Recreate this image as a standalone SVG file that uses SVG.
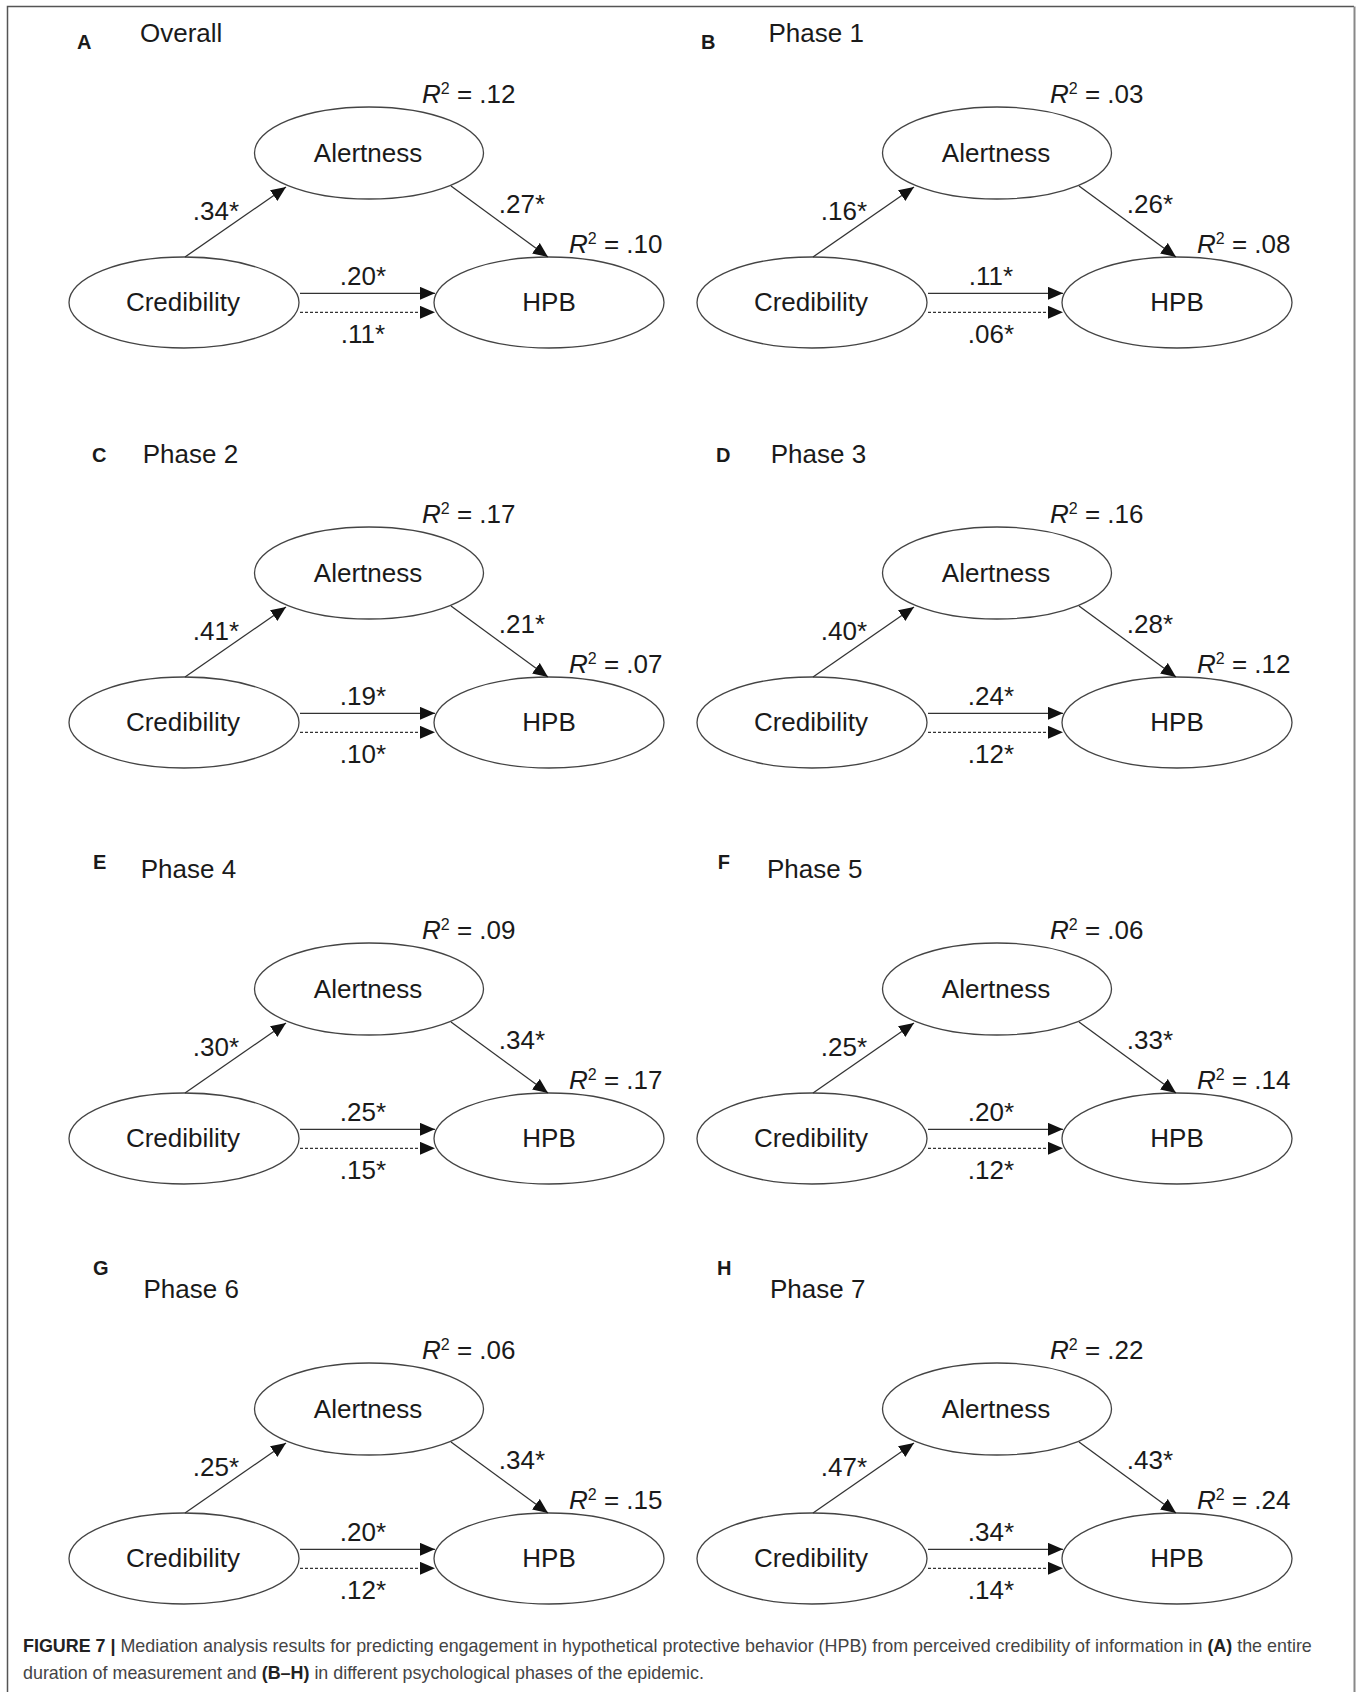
<svg xmlns="http://www.w3.org/2000/svg" width="1357" height="1692" viewBox="0 0 1357 1692">
<style>
  .t { font-family: "Liberation Sans", Arial, sans-serif; fill: #1a1a1a; }
  .lbl { font-size: 26px; }
  .mid { text-anchor: middle; }
  .let { font-size: 20px; font-weight: bold; }
  .ell { fill: #fff; stroke: #444; stroke-width: 1.3; }
  .ln { stroke: #333; stroke-width: 1.3; fill: none; }
  .dash { stroke-dasharray: 3 2; }
  .cap { font-family: "Liberation Sans", Arial, sans-serif; font-size: 17.9px; fill: #444; }
  .capb { font-weight: bold; fill: #222; }
</style>
<defs>
  <marker id="ah" markerUnits="userSpaceOnUse" markerWidth="16" markerHeight="13" refX="15" refY="6.5" orient="auto">
    <path d="M0,0 L15,6.5 L0,13 z" fill="#111"/>
  </marker>
</defs>
<rect width="1357" height="1692" fill="#fff"/>
<path d="M7.5,1692 V6.5 H1354" fill="none" stroke="#555" stroke-width="1.5"/>
<path d="M1354.5,6.5 V1692" fill="none" stroke="#888" stroke-width="2"/>

<!-- Panel letters and titles -->
<g id="titles">
  <text class="t let" x="77" y="49">A</text><text class="t lbl" x="140" y="42">Overall</text>
  <text class="t let" x="701" y="49">B</text><text class="t lbl" x="768.5" y="42">Phase 1</text>
  <text class="t let" x="92" y="462">C</text><text class="t lbl" x="142.7" y="462.7">Phase 2</text>
  <text class="t let" x="716" y="462">D</text><text class="t lbl" x="770.7" y="462.7">Phase 3</text>
  <text class="t let" x="93" y="869">E</text><text class="t lbl" x="140.7" y="878">Phase 4</text>
  <text class="t let" x="717.7" y="869">F</text><text class="t lbl" x="767" y="878">Phase 5</text>
  <text class="t let" x="93" y="1275">G</text><text class="t lbl" x="143.5" y="1298">Phase 6</text>
  <text class="t let" x="717" y="1275">H</text><text class="t lbl" x="770" y="1298">Phase 7</text>
</g>

<!-- Panel A -->
<g id="panelA" transform="translate(0,0)">
  <g id="A-alertness"><ellipse class="ell" cx="369" cy="153" rx="114.5" ry="46"/><text class="t lbl mid" x="368" y="162">Alertness</text>
    <text class="t lbl" x="422" y="103.3"><tspan font-style="italic">R</tspan><tspan font-size="16" dy="-9">2</tspan><tspan dy="9"> = .12</tspan></text></g>
  <g id="A-credibility"><ellipse class="ell" cx="184" cy="302.5" rx="115" ry="45.5"/><text class="t lbl mid" x="183" y="311">Credibility</text></g>
  <g id="A-hpb"><ellipse class="ell" cx="549" cy="302.5" rx="115" ry="45.5"/><text class="t lbl mid" x="549" y="311">HPB</text>
    <text class="t lbl" x="569" y="253.3"><tspan font-style="italic">R</tspan><tspan font-size="16" dy="-9">2</tspan><tspan dy="9"> = .10</tspan></text></g>
  <g id="A-connectors">
    <line class="ln" x1="185" y1="257" x2="286" y2="187" marker-end="url(#ah)"/>
    <line class="ln" x1="451" y1="186" x2="548" y2="257" marker-end="url(#ah)"/>
    <line class="ln" x1="300" y1="293.3" x2="435" y2="293.3" marker-end="url(#ah)"/>
    <line class="ln dash" x1="300" y1="312.3" x2="435" y2="312.3" marker-end="url(#ah)"/>
    <text class="t lbl mid" x="216" y="220">.34*</text>
    <text class="t lbl mid" x="522" y="213">.27*</text>
    <text class="t lbl mid" x="363" y="285">.20*</text>
    <text class="t lbl mid" x="363" y="343">.11*</text>
  </g>
</g>

<!-- Panel B -->
<g id="panelB" transform="translate(628,0)">
  <g id="B-alertness"><ellipse class="ell" cx="369" cy="153" rx="114.5" ry="46"/><text class="t lbl mid" x="368" y="162">Alertness</text>
    <text class="t lbl" x="422" y="103.3"><tspan font-style="italic">R</tspan><tspan font-size="16" dy="-9">2</tspan><tspan dy="9"> = .03</tspan></text></g>
  <g id="B-credibility"><ellipse class="ell" cx="184" cy="302.5" rx="115" ry="45.5"/><text class="t lbl mid" x="183" y="311">Credibility</text></g>
  <g id="B-hpb"><ellipse class="ell" cx="549" cy="302.5" rx="115" ry="45.5"/><text class="t lbl mid" x="549" y="311">HPB</text>
    <text class="t lbl" x="569" y="253.3"><tspan font-style="italic">R</tspan><tspan font-size="16" dy="-9">2</tspan><tspan dy="9"> = .08</tspan></text></g>
  <g id="B-connectors">
    <line class="ln" x1="185" y1="257" x2="286" y2="187" marker-end="url(#ah)"/>
    <line class="ln" x1="451" y1="186" x2="548" y2="257" marker-end="url(#ah)"/>
    <line class="ln" x1="300" y1="293.3" x2="435" y2="293.3" marker-end="url(#ah)"/>
    <line class="ln dash" x1="300" y1="312.3" x2="435" y2="312.3" marker-end="url(#ah)"/>
    <text class="t lbl mid" x="216" y="220">.16*</text>
    <text class="t lbl mid" x="522" y="213">.26*</text>
    <text class="t lbl mid" x="363" y="285">.11*</text>
    <text class="t lbl mid" x="363" y="343">.06*</text>
  </g>
</g>

<!-- Panel C -->
<g id="panelC" transform="translate(0,420)">
  <g id="C-alertness"><ellipse class="ell" cx="369" cy="153" rx="114.5" ry="46"/><text class="t lbl mid" x="368" y="162">Alertness</text>
    <text class="t lbl" x="422" y="103.3"><tspan font-style="italic">R</tspan><tspan font-size="16" dy="-9">2</tspan><tspan dy="9"> = .17</tspan></text></g>
  <g id="C-credibility"><ellipse class="ell" cx="184" cy="302.5" rx="115" ry="45.5"/><text class="t lbl mid" x="183" y="311">Credibility</text></g>
  <g id="C-hpb"><ellipse class="ell" cx="549" cy="302.5" rx="115" ry="45.5"/><text class="t lbl mid" x="549" y="311">HPB</text>
    <text class="t lbl" x="569" y="253.3"><tspan font-style="italic">R</tspan><tspan font-size="16" dy="-9">2</tspan><tspan dy="9"> = .07</tspan></text></g>
  <g id="C-connectors">
    <line class="ln" x1="185" y1="257" x2="286" y2="187" marker-end="url(#ah)"/>
    <line class="ln" x1="451" y1="186" x2="548" y2="257" marker-end="url(#ah)"/>
    <line class="ln" x1="300" y1="293.3" x2="435" y2="293.3" marker-end="url(#ah)"/>
    <line class="ln dash" x1="300" y1="312.3" x2="435" y2="312.3" marker-end="url(#ah)"/>
    <text class="t lbl mid" x="216" y="220">.41*</text>
    <text class="t lbl mid" x="522" y="213">.21*</text>
    <text class="t lbl mid" x="363" y="285">.19*</text>
    <text class="t lbl mid" x="363" y="343">.10*</text>
  </g>
</g>

<!-- Panel D -->
<g id="panelD" transform="translate(628,420)">
  <g id="D-alertness"><ellipse class="ell" cx="369" cy="153" rx="114.5" ry="46"/><text class="t lbl mid" x="368" y="162">Alertness</text>
    <text class="t lbl" x="422" y="103.3"><tspan font-style="italic">R</tspan><tspan font-size="16" dy="-9">2</tspan><tspan dy="9"> = .16</tspan></text></g>
  <g id="D-credibility"><ellipse class="ell" cx="184" cy="302.5" rx="115" ry="45.5"/><text class="t lbl mid" x="183" y="311">Credibility</text></g>
  <g id="D-hpb"><ellipse class="ell" cx="549" cy="302.5" rx="115" ry="45.5"/><text class="t lbl mid" x="549" y="311">HPB</text>
    <text class="t lbl" x="569" y="253.3"><tspan font-style="italic">R</tspan><tspan font-size="16" dy="-9">2</tspan><tspan dy="9"> = .12</tspan></text></g>
  <g id="D-connectors">
    <line class="ln" x1="185" y1="257" x2="286" y2="187" marker-end="url(#ah)"/>
    <line class="ln" x1="451" y1="186" x2="548" y2="257" marker-end="url(#ah)"/>
    <line class="ln" x1="300" y1="293.3" x2="435" y2="293.3" marker-end="url(#ah)"/>
    <line class="ln dash" x1="300" y1="312.3" x2="435" y2="312.3" marker-end="url(#ah)"/>
    <text class="t lbl mid" x="216" y="220">.40*</text>
    <text class="t lbl mid" x="522" y="213">.28*</text>
    <text class="t lbl mid" x="363" y="285">.24*</text>
    <text class="t lbl mid" x="363" y="343">.12*</text>
  </g>
</g>

<!-- Panel E -->
<g id="panelE" transform="translate(0,836)">
  <g id="E-alertness"><ellipse class="ell" cx="369" cy="153" rx="114.5" ry="46"/><text class="t lbl mid" x="368" y="162">Alertness</text>
    <text class="t lbl" x="422" y="103.3"><tspan font-style="italic">R</tspan><tspan font-size="16" dy="-9">2</tspan><tspan dy="9"> = .09</tspan></text></g>
  <g id="E-credibility"><ellipse class="ell" cx="184" cy="302.5" rx="115" ry="45.5"/><text class="t lbl mid" x="183" y="311">Credibility</text></g>
  <g id="E-hpb"><ellipse class="ell" cx="549" cy="302.5" rx="115" ry="45.5"/><text class="t lbl mid" x="549" y="311">HPB</text>
    <text class="t lbl" x="569" y="253.3"><tspan font-style="italic">R</tspan><tspan font-size="16" dy="-9">2</tspan><tspan dy="9"> = .17</tspan></text></g>
  <g id="E-connectors">
    <line class="ln" x1="185" y1="257" x2="286" y2="187" marker-end="url(#ah)"/>
    <line class="ln" x1="451" y1="186" x2="548" y2="257" marker-end="url(#ah)"/>
    <line class="ln" x1="300" y1="293.3" x2="435" y2="293.3" marker-end="url(#ah)"/>
    <line class="ln dash" x1="300" y1="312.3" x2="435" y2="312.3" marker-end="url(#ah)"/>
    <text class="t lbl mid" x="216" y="220">.30*</text>
    <text class="t lbl mid" x="522" y="213">.34*</text>
    <text class="t lbl mid" x="363" y="285">.25*</text>
    <text class="t lbl mid" x="363" y="343">.15*</text>
  </g>
</g>

<!-- Panel F -->
<g id="panelF" transform="translate(628,836)">
  <g id="F-alertness"><ellipse class="ell" cx="369" cy="153" rx="114.5" ry="46"/><text class="t lbl mid" x="368" y="162">Alertness</text>
    <text class="t lbl" x="422" y="103.3"><tspan font-style="italic">R</tspan><tspan font-size="16" dy="-9">2</tspan><tspan dy="9"> = .06</tspan></text></g>
  <g id="F-credibility"><ellipse class="ell" cx="184" cy="302.5" rx="115" ry="45.5"/><text class="t lbl mid" x="183" y="311">Credibility</text></g>
  <g id="F-hpb"><ellipse class="ell" cx="549" cy="302.5" rx="115" ry="45.5"/><text class="t lbl mid" x="549" y="311">HPB</text>
    <text class="t lbl" x="569" y="253.3"><tspan font-style="italic">R</tspan><tspan font-size="16" dy="-9">2</tspan><tspan dy="9"> = .14</tspan></text></g>
  <g id="F-connectors">
    <line class="ln" x1="185" y1="257" x2="286" y2="187" marker-end="url(#ah)"/>
    <line class="ln" x1="451" y1="186" x2="548" y2="257" marker-end="url(#ah)"/>
    <line class="ln" x1="300" y1="293.3" x2="435" y2="293.3" marker-end="url(#ah)"/>
    <line class="ln dash" x1="300" y1="312.3" x2="435" y2="312.3" marker-end="url(#ah)"/>
    <text class="t lbl mid" x="216" y="220">.25*</text>
    <text class="t lbl mid" x="522" y="213">.33*</text>
    <text class="t lbl mid" x="363" y="285">.20*</text>
    <text class="t lbl mid" x="363" y="343">.12*</text>
  </g>
</g>

<!-- Panel G -->
<g id="panelG" transform="translate(0,1256)">
  <g id="G-alertness"><ellipse class="ell" cx="369" cy="153" rx="114.5" ry="46"/><text class="t lbl mid" x="368" y="162">Alertness</text>
    <text class="t lbl" x="422" y="103.3"><tspan font-style="italic">R</tspan><tspan font-size="16" dy="-9">2</tspan><tspan dy="9"> = .06</tspan></text></g>
  <g id="G-credibility"><ellipse class="ell" cx="184" cy="302.5" rx="115" ry="45.5"/><text class="t lbl mid" x="183" y="311">Credibility</text></g>
  <g id="G-hpb"><ellipse class="ell" cx="549" cy="302.5" rx="115" ry="45.5"/><text class="t lbl mid" x="549" y="311">HPB</text>
    <text class="t lbl" x="569" y="253.3"><tspan font-style="italic">R</tspan><tspan font-size="16" dy="-9">2</tspan><tspan dy="9"> = .15</tspan></text></g>
  <g id="G-connectors">
    <line class="ln" x1="185" y1="257" x2="286" y2="187" marker-end="url(#ah)"/>
    <line class="ln" x1="451" y1="186" x2="548" y2="257" marker-end="url(#ah)"/>
    <line class="ln" x1="300" y1="293.3" x2="435" y2="293.3" marker-end="url(#ah)"/>
    <line class="ln dash" x1="300" y1="312.3" x2="435" y2="312.3" marker-end="url(#ah)"/>
    <text class="t lbl mid" x="216" y="220">.25*</text>
    <text class="t lbl mid" x="522" y="213">.34*</text>
    <text class="t lbl mid" x="363" y="285">.20*</text>
    <text class="t lbl mid" x="363" y="343">.12*</text>
  </g>
</g>

<!-- Panel H -->
<g id="panelH" transform="translate(628,1256)">
  <g id="H-alertness"><ellipse class="ell" cx="369" cy="153" rx="114.5" ry="46"/><text class="t lbl mid" x="368" y="162">Alertness</text>
    <text class="t lbl" x="422" y="103.3"><tspan font-style="italic">R</tspan><tspan font-size="16" dy="-9">2</tspan><tspan dy="9"> = .22</tspan></text></g>
  <g id="H-credibility"><ellipse class="ell" cx="184" cy="302.5" rx="115" ry="45.5"/><text class="t lbl mid" x="183" y="311">Credibility</text></g>
  <g id="H-hpb"><ellipse class="ell" cx="549" cy="302.5" rx="115" ry="45.5"/><text class="t lbl mid" x="549" y="311">HPB</text>
    <text class="t lbl" x="569" y="253.3"><tspan font-style="italic">R</tspan><tspan font-size="16" dy="-9">2</tspan><tspan dy="9"> = .24</tspan></text></g>
  <g id="H-connectors">
    <line class="ln" x1="185" y1="257" x2="286" y2="187" marker-end="url(#ah)"/>
    <line class="ln" x1="451" y1="186" x2="548" y2="257" marker-end="url(#ah)"/>
    <line class="ln" x1="300" y1="293.3" x2="435" y2="293.3" marker-end="url(#ah)"/>
    <line class="ln dash" x1="300" y1="312.3" x2="435" y2="312.3" marker-end="url(#ah)"/>
    <text class="t lbl mid" x="216" y="220">.47*</text>
    <text class="t lbl mid" x="522" y="213">.43*</text>
    <text class="t lbl mid" x="363" y="285">.34*</text>
    <text class="t lbl mid" x="363" y="343">.14*</text>
  </g>
</g>

<!-- Caption -->
<g id="caption">
  <text class="cap" x="23" y="1652"><tspan class="capb">FIGURE 7 |</tspan> Mediation analysis results for predicting engagement in hypothetical protective behavior (HPB) from perceived credibility of information in <tspan class="capb">(A)</tspan> the entire</text>
  <text class="cap" x="23" y="1679">duration of measurement and <tspan class="capb">(B–H)</tspan> in different psychological phases of the epidemic.</text>
</g>
</svg>
